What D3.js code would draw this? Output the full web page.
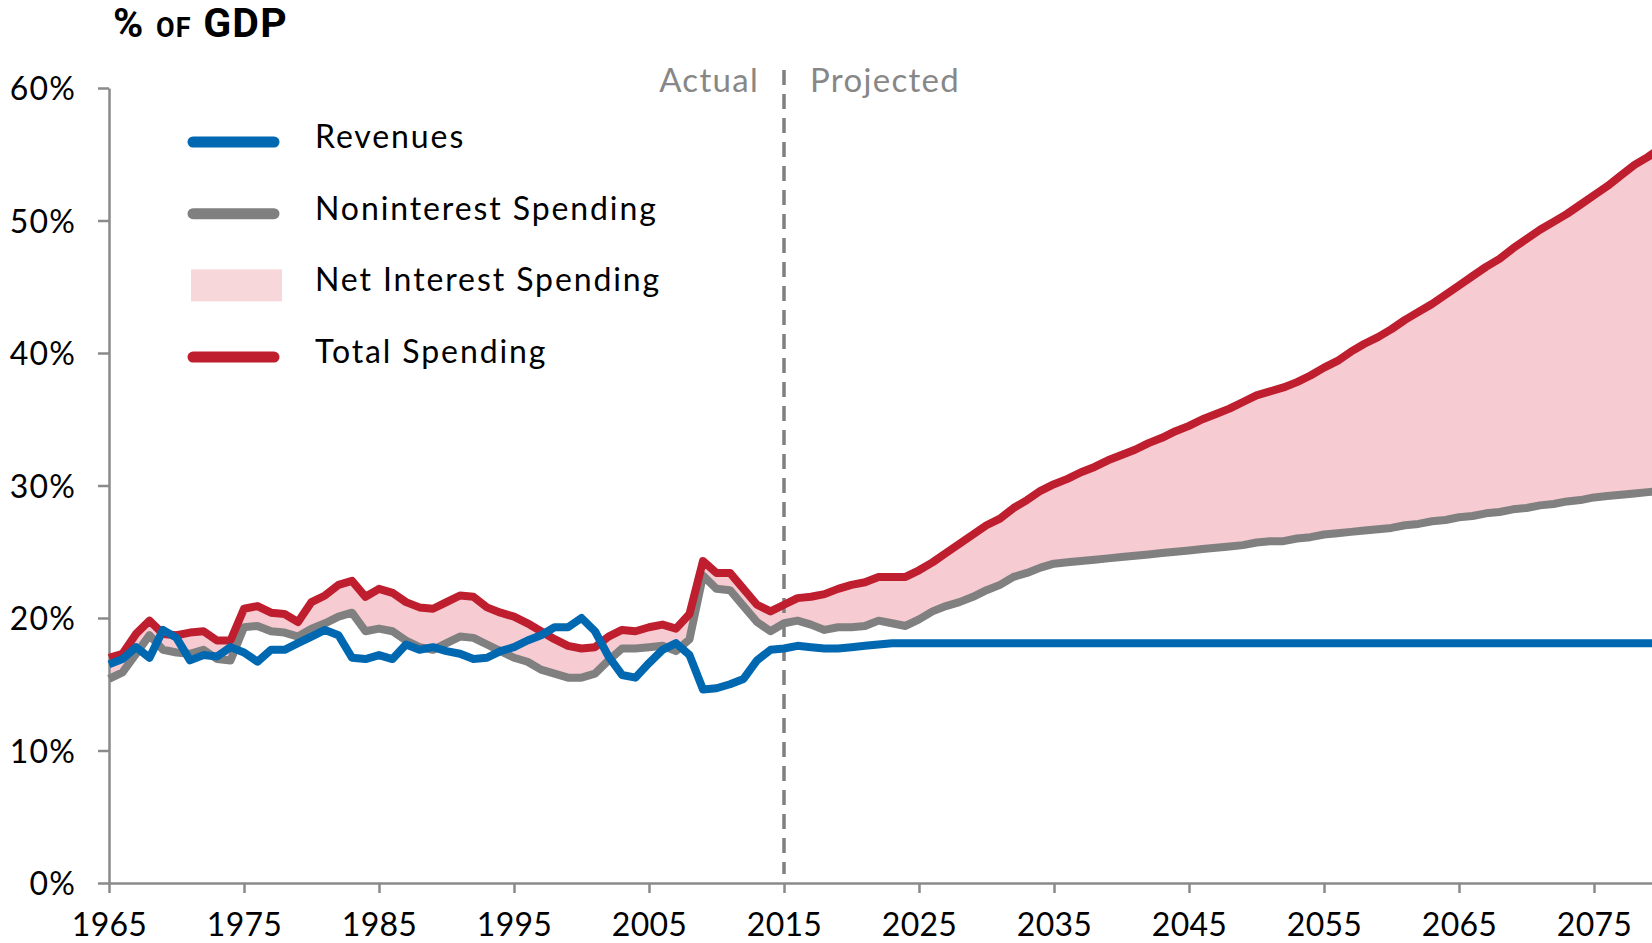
<!DOCTYPE html>
<html>
<head>
<meta charset="utf-8">
<script src="https://cdn.jsdelivr.net/npm/d3@7/dist/d3.min.js"></script>
<style>
    body { margin: 0; background: #fff; }
    svg { display: block; font-family: Lato, "Noto Sans", sans-serif; }
</style>
</head>
<body>
<div id="chart"></div>
<script>

// years 1965 - 2080 (actual through 2014, projected after)
var firstYear = 1965;
var lastYear = 2080;
var splitYear = 2015;

var revenues = [
    16.5, 16.9, 17.8, 17.0, 19.1, 18.5, 16.8, 17.2, 17.1, 17.8,
    17.4, 16.7, 17.6, 17.6, 18.1, 18.6, 19.1, 18.7, 17.0, 16.9,
    17.2, 16.9, 18.0, 17.6, 17.8, 17.5, 17.3, 16.9, 17.0, 17.5,
    17.8, 18.3, 18.7, 19.3, 19.3, 20.0, 19.0, 17.1, 15.7, 15.5,
    16.6, 17.6, 18.1, 17.2, 14.6, 14.7, 15.0, 15.4, 16.8, 17.6,
    17.7, 17.9, 17.8, 17.7, 17.7, 17.8, 17.9, 18.0, 18.1, 18.1,
    18.1, 18.1, 18.1, 18.1, 18.1, 18.1, 18.1, 18.1, 18.1, 18.1,
    18.1, 18.1, 18.1, 18.1, 18.1, 18.1, 18.1, 18.1, 18.1, 18.1,
    18.1, 18.1, 18.1, 18.1, 18.1, 18.1, 18.1, 18.1, 18.1, 18.1,
    18.1, 18.1, 18.1, 18.1, 18.1, 18.1, 18.1, 18.1, 18.1, 18.1,
    18.1, 18.1, 18.1, 18.1, 18.1, 18.1, 18.1, 18.1, 18.1, 18.1,
    18.1, 18.1, 18.1, 18.1, 18.1, 18.1
];

var noninterestSpending = [
    15.4, 15.9, 17.3, 18.7, 17.6, 17.4, 17.3, 17.6, 16.9, 16.8,
    19.3, 19.4, 19.0, 18.9, 18.6, 19.2, 19.6, 20.1, 20.4, 19.0,
    19.2, 19.0, 18.3, 17.8, 17.6, 18.1, 18.6, 18.5, 18.0, 17.5,
    17.0, 16.7, 16.1, 15.8, 15.5, 15.5, 15.8, 16.8, 17.7, 17.7,
    17.8, 17.9, 17.5, 18.4, 23.2, 22.2, 22.1, 20.9, 19.7, 19.0,
    19.6, 19.8, 19.5, 19.1, 19.3, 19.3, 19.4, 19.8, 19.6, 19.4,
    19.9, 20.5, 20.9, 21.2, 21.6, 22.1, 22.5, 23.1, 23.4, 23.8,
    24.1, 24.2, 24.3, 24.4, 24.5, 24.6, 24.7, 24.8, 24.9, 25.0,
    25.1, 25.2, 25.3, 25.4, 25.5, 25.7, 25.8, 25.8, 26.0, 26.1,
    26.3, 26.4, 26.5, 26.6, 26.7, 26.8, 27.0, 27.1, 27.3, 27.4,
    27.6, 27.7, 27.9, 28.0, 28.2, 28.3, 28.5, 28.6, 28.8, 28.9,
    29.1, 29.2, 29.3, 29.4, 29.5, 29.6
];

var totalSpending = [
    17.0, 17.3, 18.8, 19.8, 18.8, 18.7, 18.9, 19.0, 18.3, 18.3,
    20.7, 20.9, 20.4, 20.3, 19.7, 21.2, 21.7, 22.5, 22.8, 21.6,
    22.2, 21.9, 21.2, 20.8, 20.7, 21.2, 21.7, 21.6, 20.8, 20.4,
    20.1, 19.6, 19.0, 18.4, 17.9, 17.7, 17.8, 18.6, 19.1, 19.0,
    19.3, 19.5, 19.2, 20.3, 24.3, 23.4, 23.4, 22.2, 21.0, 20.5,
    21.0, 21.5, 21.6, 21.8, 22.2, 22.5, 22.7, 23.1, 23.1, 23.1,
    23.6, 24.2, 24.9, 25.6, 26.3, 27.0, 27.5, 28.3, 28.9, 29.6,
    30.1, 30.5, 31.0, 31.4, 31.9, 32.3, 32.7, 33.2, 33.6, 34.1,
    34.5, 35.0, 35.4, 35.8, 36.3, 36.8, 37.1, 37.4, 37.8, 38.3,
    38.9, 39.4, 40.1, 40.7, 41.2, 41.8, 42.5, 43.1, 43.7, 44.4,
    45.1, 45.8, 46.5, 47.1, 47.9, 48.6, 49.3, 49.9, 50.5, 51.2,
    51.9, 52.6, 53.4, 54.2, 54.8, 55.5
];

var yTicks = [0, 10, 20, 30, 40, 50, 60];
var xTicks = [1965, 1975, 1985, 1995, 2005, 2015, 2025, 2035, 2045, 2055, 2065, 2075];

var legendItems = [
    {label: "Revenues", type: "line", color: "#0067b1"},
    {label: "Noninterest Spending", type: "line", color: "#808080"},
    {label: "Net Interest Spending", type: "box", color: "#f8d7db"},
    {label: "Total Spending", type: "line", color: "#be1e2e"}
];

var colors = {revenue: "#0067b1", nonint: "#808080", total: "#be1e2e", area: "#f6cbd1", axis: "#8a8a8a"};

var data = d3.range(firstYear, lastYear + 1).map(function(yr, i) {
    return {year: yr, rev: revenues[i], non: noninterestSpending[i], tot: totalSpending[i]};
});

var width = 1652, height = 943;

var svg = d3.select("#chart").append("svg")
    .attr("width", width)
    .attr("height", height);

// scales (right end runs past the edge of the picture, as in the original)
var xScale = d3.scaleLinear()
    .domain([firstYear, lastYear])
    .range([109, 109 + 13.5 * (lastYear - firstYear)]);

var yScale = d3.scaleLinear()
    .domain([0, 60])
    .range([883, 88]);

// net interest band
var band = d3.area()
    .x(function(d) { return xScale(d.year); })
    .y0(function(d) { return yScale(d.non); })
    .y1(function(d) { return yScale(d.tot); });

svg.append("path")
    .datum(data)
    .attr("fill", colors.area)
    .attr("d", band);

// axes
var yAxis = d3.axisLeft(yScale)
    .tickValues(yTicks)
    .tickSize(11)
    .tickSizeOuter(0)
    .tickPadding(22)
    .tickFormat(function(d) { return d + "%"; });

var xAxis = d3.axisBottom(xScale)
    .tickValues(xTicks)
    .tickSize(10)
    .tickSizeOuter(0)
    .tickFormat(d3.format("d"));

var gy = svg.append("g")
    .attr("class", "y-axis axis")
    .attr("transform", "translate(109,0)")
    .call(yAxis);

var gx = svg.append("g")
    .attr("class", "x-axis axis")
    .attr("transform", "translate(0,883)")
    .call(xAxis);

svg.selectAll(".axis path, .axis line")
    .attr("stroke", colors.axis)
    .attr("stroke-width", 2.5);

svg.selectAll(".axis text")
    .attr("fill", "#000")
    .attr("font-family", "Lato, sans-serif")
    .attr("font-size", 32);

gy.selectAll("text").attr("dy", "0.36em").attr("letter-spacing", 1.2);
gx.selectAll("text").attr("y", 53).attr("dy", 0).attr("letter-spacing", 0.3);

// actual / projected divider
svg.append("line")
    .attr("x1", xScale(splitYear))
    .attr("x2", xScale(splitYear))
    .attr("y1", 70)
    .attr("y2", 874)
    .attr("stroke", "#7f7f7f")
    .attr("stroke-width", 3.5)
    .attr("stroke-dasharray", "15,9");

svg.append("text")
    .attr("x", xScale(splitYear) - 25)
    .attr("y", 92)
    .attr("text-anchor", "end")
    .attr("fill", "#878787")
    .attr("font-size", 33)
    .attr("letter-spacing", 1.3)
    .text("Actual");

svg.append("text")
    .attr("x", xScale(splitYear) + 26)
    .attr("y", 92)
    .attr("fill", "#878787")
    .attr("font-size", 33)
    .attr("letter-spacing", 1.3)
    .text("Projected");

// lines
var makeLine = function(key) {
    return d3.line()
        .x(function(d) { return xScale(d.year); })
        .y(function(d) { return yScale(d[key]); });
};

[["non", colors.nonint], ["tot", colors.total], ["rev", colors.revenue]].forEach(function(s) {
    svg.append("path")
        .datum(data)
        .attr("fill", "none")
        .attr("stroke", s[1])
        .attr("stroke-width", 8)
        .attr("stroke-linejoin", "round")
        .attr("d", makeLine(s[0]));
});

// title
var title = svg.append("text")
    .attr("x", 113)
    .attr("y", 37)
    .attr("font-family", "Roboto, sans-serif")
    .attr("font-weight", 700)
    .attr("font-size", 41)
    .attr("letter-spacing", 1.2)
    .attr("fill", "#000");
title.append("tspan").text("% ");
title.append("tspan").attr("font-size", 27).text("OF");
title.append("tspan").text(" GDP");

// legend
var legend = svg.selectAll(".legend-item")
    .data(legendItems)
    .enter().append("g")
    .attr("class", "legend-item")
    .attr("transform", function(d, i) { return "translate(0," + (i * 71.7) + ")"; });

legend.filter(function(d) { return d.type == "line"; })
    .append("line")
    .attr("x1", 193).attr("x2", 274)
    .attr("y1", 142).attr("y2", 142)
    .attr("stroke", function(d) { return d.color; })
    .attr("stroke-width", 11)
    .attr("stroke-linecap", "round");

legend.filter(function(d) { return d.type == "box"; })
    .append("rect")
    .attr("x", 191).attr("y", 126)
    .attr("width", 91).attr("height", 32)
    .attr("fill", function(d) { return d.color; });

legend.append("text")
    .attr("x", 315)
    .attr("y", 148)
    .attr("font-size", 32)
    .attr("letter-spacing", 1.9)
    .attr("fill", "#000")
    .text(function(d) { return d.label; });

</script>
</body>
</html>
